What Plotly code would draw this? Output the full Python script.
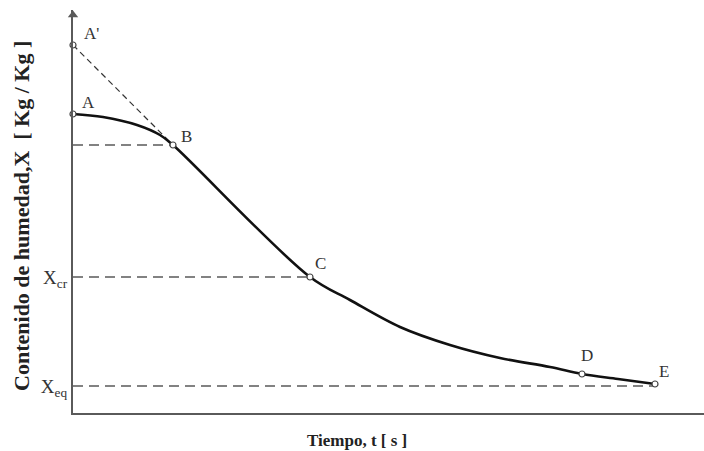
import plotly.graph_objects as go

# Drying curve (arbitrary units)
curve_t = [0, 30, 64, 87, 100, 237, 277, 327, 377, 427, 477, 509, 545, 582]
curve_x = [299, 296, 288, 278, 268, 136, 113, 86, 68, 55, 46, 39, 34, 29]

point_names = ["A'", "A", "B", "C", "D", "E"]
point_t = [0, 0, 100, 237, 509, 582]
point_x = [368, 299, 268, 136, 39, 29]

x_cr = 136
x_eq = 27
x_b = 268
tick_vals = [x_cr, x_eq]
tick_text = ["X<sub>cr</sub>", "X<sub>eq</sub>"]

serif = "Liberation Serif"
grey = "#5a5a5a"

fig = go.Figure()

# tangent A' -> B
fig.add_trace(go.Scatter(x=[point_t[0], point_t[2]], y=[point_x[0], point_x[2]],
                         mode="lines", line=dict(color="#333", width=1.2, dash="6px,4px"),
                         hoverinfo="skip", cliponaxis=False))
# horizontal reference lines
fig.add_trace(go.Scatter(x=[0, point_t[2]], y=[x_b, x_b], mode="lines",
                         line=dict(color=grey, width=1.6, dash="10px,6px"), cliponaxis=False))
fig.add_trace(go.Scatter(x=[0, point_t[3]], y=[x_cr, x_cr], mode="lines",
                         line=dict(color=grey, width=1.6, dash="10px,6px"), cliponaxis=False))
fig.add_trace(go.Scatter(x=[0, point_t[5]], y=[x_eq, x_eq], mode="lines",
                         line=dict(color=grey, width=1.6, dash="10px,6px"), cliponaxis=False))
# curve
fig.add_trace(go.Scatter(x=curve_t, y=curve_x, mode="lines",
                         line=dict(color="#111", width=2.6, shape="spline", smoothing=1.0),
                         cliponaxis=False))
# points
fig.add_trace(go.Scatter(x=point_t, y=point_x, mode="markers",
                         marker=dict(size=6, color="white", line=dict(color="#444", width=1.2)),
                         cliponaxis=False))
# y-axis arrow head
fig.add_trace(go.Scatter(x=[0], y=[398], mode="markers",
                         marker=dict(symbol="triangle-up", size=9, color=grey),
                         cliponaxis=False, hoverinfo="skip"))

# point labels
offsets = {"A'": (18, 12), "A": (15, 12), "B": (13, 9), "C": (10, 14), "D": (5, 19), "E": (9, 13)}
for n, t, xv in zip(point_names, point_t, point_x):
    dx, dy = offsets[n]
    fig.add_annotation(x=t, y=xv, text=n, showarrow=False, xshift=dx, yshift=dy,
                       font=dict(family=serif, size=17, color="#333"))

# axis titles
fig.add_annotation(xref="paper", yref="paper", x=0, y=0.489, xshift=-51,
                   text="<b>Contenido de humedad,X  [ Kg / Kg ]</b>",
                   textangle=-90, showarrow=False, font=dict(family=serif, size=22, color="#222"),
                   xanchor="center", yanchor="middle")
fig.add_annotation(xref="paper", yref="paper", x=0.45, y=0, yshift=-27,
                   text="<b>Tiempo, t [ s ]</b>", showarrow=False,
                   font=dict(family=serif, size=17, color="#222"), xanchor="center", yanchor="middle")

fig.update_layout(
    width=704, height=451, showlegend=False,
    margin=dict(l=73, r=0, t=10, b=38),
    plot_bgcolor="white", paper_bgcolor="white",
    xaxis=dict(range=[0, 631], showgrid=False, zeroline=False, showticklabels=False, ticks="",
               showline=True, linecolor=grey, linewidth=1.6, fixedrange=True),
    yaxis=dict(range=[0, 403], showgrid=False, zeroline=False, tickvals=tick_vals, ticktext=tick_text,
               ticks="", tickfont=dict(family=serif, size=19, color="#333"), fixedrange=True,
               showline=True, linecolor=grey, linewidth=2.2, automargin=False),
)

fig.write_html("out.html", config={"displayModeBar": False},
               post_script="document.body.style.margin='0';")
